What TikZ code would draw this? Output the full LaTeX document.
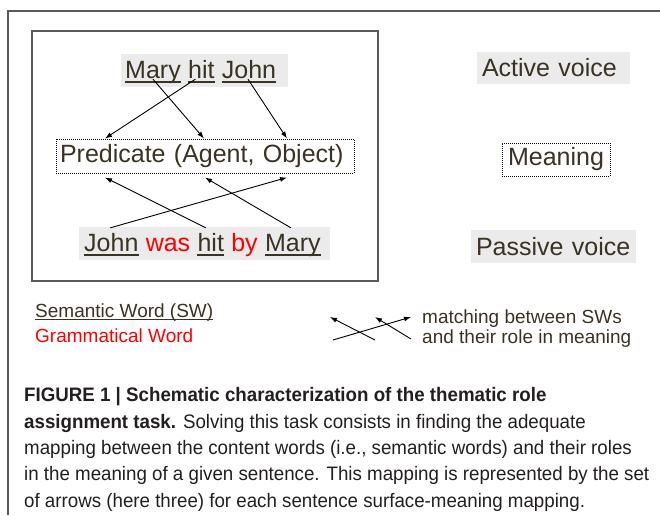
\documentclass[tikz,border=0pt]{standalone}
\usepackage{fontspec}
\setmainfont{Liberation Sans}
\newfontfamily\capfont[FakeStretch=0.96]{Liberation Sans}
\usepackage{xcolor}
\usepackage{tikz}
\usetikzlibrary{arrows.meta,positioning}
\definecolor{inkc}{HTML}{3A3223}
\definecolor{greyf}{HTML}{EBEBEB}
\definecolor{framec}{HTML}{5A5A5A}
\definecolor{redw}{HTML}{FF0000}
\definecolor{capc}{HTML}{231F20}
\tikzset{
  ar/.style={-{Latex[length=7pt,width=5pt]},line width=0.9pt,black},
  gbox/.style={fill=greyf,inner sep=0pt},
  lbox/.style={fill=greyf,inner xsep=5pt,inner ysep=0pt,align=left,text=inkc,font=\fontsize{25}{28}\selectfont},
  dbox/.style={draw=black,dash pattern=on 1pt off 1pt,line width=1pt,inner ysep=0pt,text=inkc,font=\fontsize{25}{28}\selectfont},
  wd/.style={inner sep=0pt,text height=23pt,text depth=1pt,text=inkc,font=\fontsize{25}{28}\selectfont},
  ul/.style={line width=1.9pt,inkc},
  lg/.style={inner sep=0pt,text=inkc,font=\fontsize{19}{20}\selectfont}
}

\begin{document}
\begin{tikzpicture}[x=1pt,y=-1pt,node distance=6.95pt]
\useasboundingbox (0,0) rectangle (660,515);
\draw[framec,line width=1.5pt] (660,11) -- (8,11) -- (8,515);
\draw[framec,line width=1.3pt] (32,31) rectangle (378,281);
% sentences
\node[gbox,minimum width=167pt,minimum height=33pt] (actbg) at (204.5,70.5) {};
\node[gbox,minimum width=251pt,minimum height=33pt] (pasbg) at (204.5,243.5) {};
\node[wd,anchor=base west] (m1) at (125,78) {Mary};
\node[wd,right=of m1] (h1) {hit};
\node[wd,right=of h1] (j1) {John};
\node[wd,anchor=base west] (j2) at (84,251) {John};
\node[wd,right=of j2,text=redw] (w2) {was};
\node[wd,right=of w2] (h2) {hit};
\node[wd,right=of h2,text=redw] (b2) {by};
\node[wd,right=of b2] (m2) {Mary};
\foreach \w in {m1,h1,j1,j2,h2,m2}
  \draw[ul] ([yshift=-4pt]\w.base west) -- ([yshift=-4pt]\w.base east);
\node[dbox,minimum width=298pt,minimum height=34pt,text width=290pt,inner xsep=4pt,align=left] (pred) at (205,156) {Predicate (Agent, Object)};
% labels on the right
\node[lbox,minimum height=32pt,text width=143pt] (act) at (553.5,68) {Active voice};
\node[dbox,minimum width=108pt,minimum height=33pt] (mean) at (556,159.5) {Meaning};
\node[lbox,minimum height=33pt,text width=155pt] (pas) at (553.5,246.5) {Passive voice};
% mappings
\draw[ar] (m1.south) -- ([xshift=-1pt]pred.north);
\draw[ar] ([xshift=-6pt]h1.south) -- ([xshift=-100pt]pred.north);
\draw[ar] ([xshift=-1pt]j1.south) -- ([xshift=82pt]pred.north);
\draw[ar] ([xshift=-1pt]j2.north) -- ([xshift=82pt,yshift=-4pt]pred.south);
\draw[ar] ([xshift=-5pt]h2.north) -- ([xshift=-100pt,yshift=-4pt]pred.south);
\draw[ar] ([xshift=-2pt]m2.north) -- ([yshift=-4pt]pred.south);
% legend
\node[lg,anchor=base west] (sw) at (35,317) {Semantic Word (SW)};
\draw[line width=1.3pt,inkc] ([yshift=-2.5pt]sw.base west) -- ([yshift=-2.5pt]sw.base east);
\node[lg,anchor=base west,text=redw] (gw) at (35,342) {Grammatical Word};
\coordinate (la1) at (375,340); \coordinate (la2) at (330,317);
\coordinate (lb1) at (333,340); \coordinate (lb2) at (411,317);
\coordinate (lc1) at (411,339); \coordinate (lc2) at (375,317);
\draw[ar] (la1) -- (la2);
\draw[ar] (lb1) -- (lb2);
\draw[ar] (lc1) -- (lc2);
\node[lg,anchor=base west,align=left] (mt) at (422,343) {matching between SWs\\and their role in meaning};
% caption
\node[inner sep=0pt,anchor=base west,align=left,text=capc,font=\capfont\fontsize{19.5}{26.3}\selectfont] (cap) at (24,507)
  {\textbf{FIGURE 1 | Schematic characterization of the thematic role}\\
   \textbf{assignment task.} Solving this task consists in finding the adequate\\
   mapping between the content words (i.e., semantic words) and their roles\\
   in the meaning of a given sentence. This mapping is represented by the set\\
   of arrows (here three) for each sentence surface-meaning mapping.};
\end{tikzpicture}
\end{document}
